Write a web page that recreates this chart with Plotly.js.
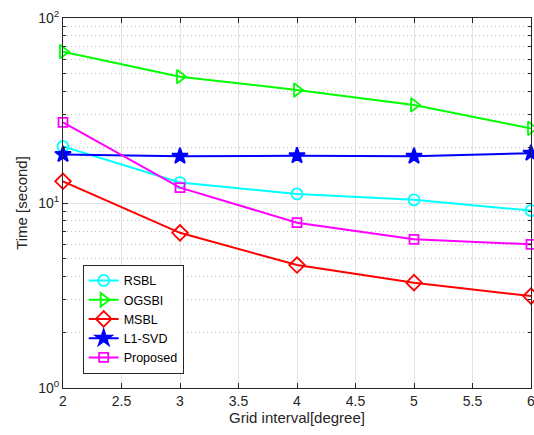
<!DOCTYPE html>
<html>
<head>
<meta charset="utf-8">
<script src="https://cdn.plot.ly/plotly-3.0.1.min.js"></script>
<style>
  html, body { margin: 0; padding: 0; background: #fff; }
  #chart { width: 534px; height: 435px; }
</style>
</head>
<body>
<div id="chart"></div>
<script>
// Grid interval in degrees
const gridInterval = [2, 3, 4, 5, 6];

// Running time in seconds for each method
const rsbl     = [20.2, 12.9, 11.2, 10.4, 9.1];
const ogsbi    = [65.8, 48.2, 40.8, 33.9, 25.3];
const msbl     = [13.1, 6.9, 4.62, 3.71, 3.14];
const l1svd    = [18.3, 17.9, 18.0, 17.9, 18.6];
const proposed = [27.3, 12.1, 7.83, 6.36, 5.98];

// Axis labels
const xTickVals = [2, 2.5, 3, 3.5, 4, 4.5, 5, 5.5, 6];
const xTickText = ['2', '2.5', '3', '3.5', '4', '4.5', '5', '5.5', '6'];
const yTickVals = [1, 10, 100];
const yTickText = ['10<sup>0</sup>', '10<sup>1</sup>', '10<sup>2</sup>'];
const yMinorVals = [2, 3, 4, 5, 6, 7, 8, 9, 20, 30, 40, 50, 60, 70, 80, 90];

function series(name, y, color, symbol, size) {
  return {
    x: gridInterval, y: y, name: name, type: 'scatter', mode: 'lines+markers',
    cliponaxis: false,
    line: { color: color, width: 2 },
    marker: { symbol: symbol, size: size, color: color, line: { color: color, width: 1.8 } }
  };
}

const data = [
  series('RSBL', rsbl, '#00FFFF', 'circle-open', 11),
  series('OGSBI', ogsbi, '#00FF00', 'triangle-right-open', 12),
  series('MSBL', msbl, '#FF0000', 'diamond-open', 12),
  series('L1-SVD', l1svd, '#0000FF', 'star', 12),
  series('Proposed', proposed, '#FF00FF', 'square-open', 9)
];

const axisColor = '#262626';
const layout = {
  width: 534, height: 435,
  margin: { l: 63, r: 3, t: 18, b: 47 },
  paper_bgcolor: '#fff', plot_bgcolor: '#fff',
  font: { family: 'Liberation Sans, Arial, sans-serif', size: 14, color: axisColor },
  showlegend: true,
  legend: {
    x: 0.042, y: 0.333, xanchor: 'left', yanchor: 'top',
    bgcolor: '#fff', bordercolor: axisColor, borderwidth: 1,
    font: { size: 12.5, color: '#000' }, tracegroupgap: 0
  },
  xaxis: {
    range: [2, 6],
    tickmode: 'array', tickvals: xTickVals, ticktext: xTickText,
    ticklabeloverflow: 'allow',
    showline: true, linecolor: axisColor, linewidth: 1, mirror: 'ticks',
    ticks: 'inside', ticklen: 5, tickcolor: axisColor,
    showgrid: true, gridcolor: '#e3e3e3', gridwidth: 1, zeroline: false,
    tickfont: { size: 14 },
    title: { text: 'Grid interval[degree]', font: { size: 15 }, standoff: 4 }
  },
  yaxis: {
    type: 'log', range: [0, 2],
    tickmode: 'array', tickvals: yTickVals, ticktext: yTickText,
    ticklabeloverflow: 'allow',
    showline: true, linecolor: axisColor, linewidth: 1, mirror: 'ticks',
    ticks: 'inside', ticklen: 5, tickcolor: axisColor,
    showgrid: true, gridcolor: '#e3e3e3', gridwidth: 1, zeroline: false,
    tickfont: { size: 14 },
    minor: {
      tickmode: 'array', tickvals: yMinorVals,
      ticks: 'inside', ticklen: 3, tickcolor: axisColor,
      showgrid: true, gridcolor: '#bdbdbd', griddash: '1px,3px', gridwidth: 1
    },
    title: { text: 'Time [second]', font: { size: 15 }, standoff: 6 }
  }
};

Plotly.newPlot('chart', data, layout, { displayModeBar: false, staticPlot: true });
</script>
</body>
</html>
